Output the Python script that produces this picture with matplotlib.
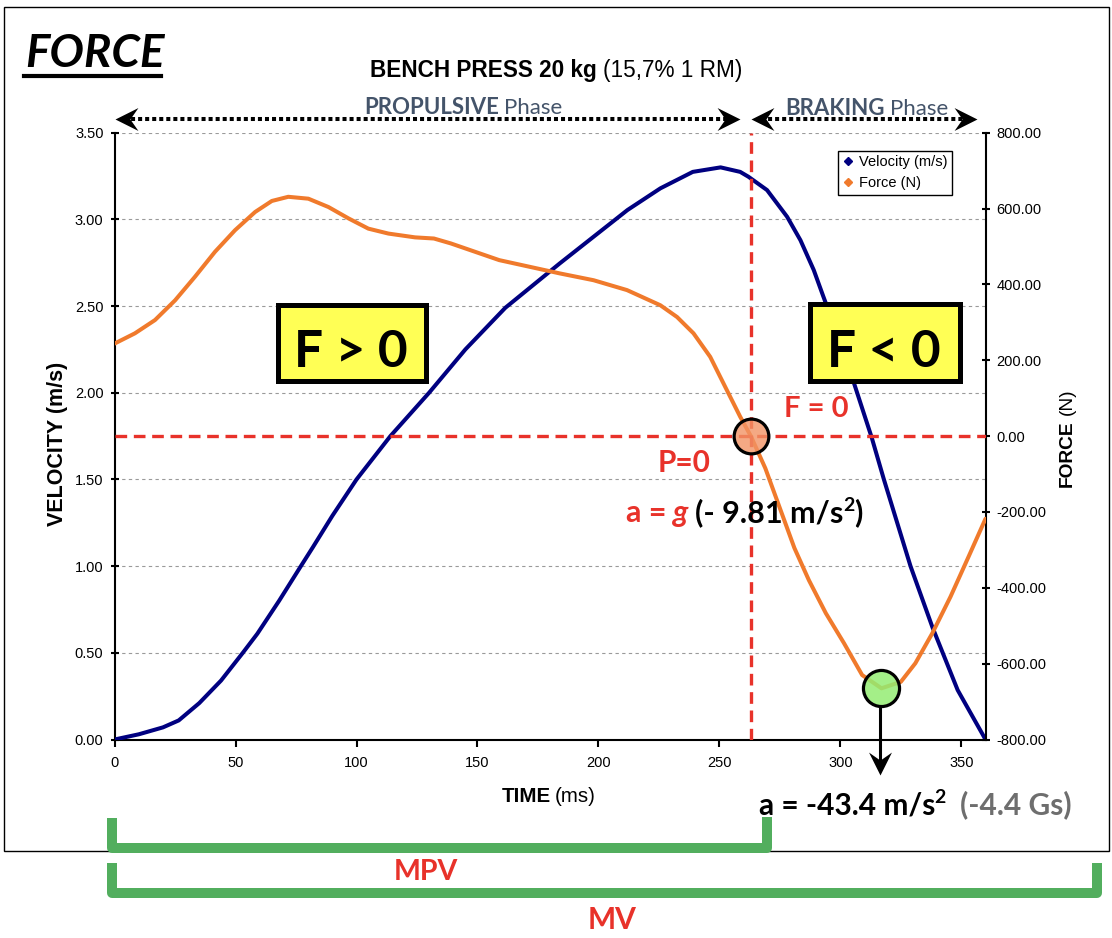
import matplotlib
matplotlib.use("Agg")
import matplotlib.pyplot as plt
import matplotlib.transforms as mtransforms
from matplotlib.lines import Line2D
from matplotlib.patches import Rectangle
from matplotlib.path import Path
from matplotlib.ticker import FuncFormatter

plt.rcParams['font.family'] = ['Liberation Sans', 'DejaVu Sans']
plt.rcParams['axes.unicode_minus'] = False

# ---------------- data ----------------
time_v = [0, 10, 20, 26.5, 35, 44, 53, 59, 68, 77, 82, 90, 100, 114, 130, 145,
          161.5, 184, 198, 212, 225.6, 239, 250.5, 258.6, 262, 269.7, 278,
          283.5, 289, 293, 300, 306, 313, 318, 329, 338, 348.5, 360]
velocity = [0.00, 0.03, 0.07, 0.11, 0.21, 0.34, 0.50, 0.61, 0.80, 1.00, 1.11,
            1.29, 1.50, 1.75, 2.00, 2.25, 2.49, 2.746, 2.90, 3.054, 3.179,
            3.274, 3.30, 3.274, 3.246, 3.169, 3.015, 2.88, 2.708, 2.554, 2.29,
            2.04, 1.74, 1.50, 1.00, 0.65, 0.285, 0.00]

time_f = [0, 8.4, 16.7, 25, 33.2, 41.5, 49.8, 58.1, 65, 71.8, 80.1, 88.4,
          96.7, 104.9, 113.2, 124.2, 132, 139, 159, 184, 198, 211.8, 225.6,
          232.5, 239.3, 246.2, 253.1, 258.6, 263, 269, 275, 281, 287, 294,
          301.5, 309, 317, 325, 331, 338, 345.5, 353, 360]
force = [244, 271, 306, 358, 420, 486, 543, 591, 620, 631, 626, 604, 574, 547,
         534, 524, 521, 508, 464, 429, 411, 385, 345, 314, 271, 209, 121, 51,
         0, -85, -190, -295, -380, -467, -546, -630, -665, -648, -599, -520,
         -424, -318, -218]

x_ticks = [0, 50, 100, 150, 200, 250, 300, 350]
v_ticks = [0.0, 0.5, 1.0, 1.5, 2.0, 2.5, 3.0, 3.5]
f_ticks = [-800, -600, -400, -200, 0, 200, 400, 600, 800]

p0_point = (263, 0)          # F = 0 / P = 0 instant
min_point = (317, -663)      # minimum force
phase_arrows = [(0, 258.5), (263, 356.5)]

NAVY = '#000080'
ORANGE = '#F07A2C'
RED = '#E8322A'
GREEN = '#52AE5E'
SLATE = '#44546A'
W, H = 1112, 938


def fx(x):
    return x / W


def fy(y):
    return 1 - y / H


fig = plt.figure(figsize=(W / 100, H / 100), dpi=100)
fig.patch.set_facecolor('white')

# outer frame
fig.add_artist(Rectangle((fx(4), fy(851)), fx(1109) - fx(4), fy(7) - fy(851),
                         transform=fig.transFigure, fill=False, ec='black',
                         lw=1.0, zorder=0))

L, R, T, B = 114.6, 985.5, 132.7, 739.5
ax = fig.add_axes([fx(L), fy(B), fx(R) - fx(L), fy(T) - fy(B)])
ax2 = ax.twinx()
ax.set_xlim(0, 360)
ax.set_ylim(0, 3.5)
ax2.set_ylim(-800, 800)
ax.patch.set_alpha(0)

ax.yaxis.grid(True, color='#9a9a9a', lw=0.8, linestyle=(0, (3, 3)))
ax.set_axisbelow(True)

ax.plot(time_v, velocity, color=NAVY, lw=2.9, solid_capstyle='round',
        solid_joinstyle='round', zorder=3)
ax2.plot(time_f, force, color=ORANGE, lw=2.9, solid_capstyle='round',
         solid_joinstyle='round', zorder=3)

# spines / ticks
for s in ['top', 'right']:
    ax.spines[s].set_visible(False)
for s in ['top', 'left', 'bottom']:
    ax2.spines[s].set_visible(False)
for sp in [ax.spines['left'], ax.spines['bottom'], ax2.spines['right']]:
    sp.set_linewidth(1.5)

ax.set_xticks(x_ticks)
ax.set_yticks(v_ticks)
ax2.set_yticks(f_ticks)
ax.yaxis.set_major_formatter(FuncFormatter(lambda v, p: f"{v:.2f}"))
ax2.yaxis.set_major_formatter(FuncFormatter(lambda v, p: f"{v:.2f}"))
ax.xaxis.set_major_formatter(FuncFormatter(lambda v, p: f"{int(round(v))}"))
ax.tick_params(axis='y', direction='inout', length=6, width=1.5,
               labelsize=10.5, pad=5)
ax.tick_params(axis='x', direction='out', length=5, width=1.5,
               labelsize=10.5, pad=7)
ax2.tick_params(axis='y', direction='inout', length=6, width=1.5,
                labelsize=10.5, pad=5)

# red dashed reference lines
ax2.axhline(p0_point[1], color=RED, lw=2.4, ls=(0, (3.5, 2)), zorder=4)
ax2.axvline(p0_point[0], color=RED, lw=2.4, ls=(0, (3.5, 2)), zorder=4)

# circles
ax2.plot([p0_point[0]], [p0_point[1]], marker='o', ms=25, ls='none',
         mfc=(0.95, 0.58, 0.40, 0.8), mec='black', mew=2.3, zorder=6)
ax2.plot([min_point[0]], [min_point[1]], marker='o', ms=26, ls='none',
         mfc=(0.58, 0.93, 0.45, 0.85), mec='black', mew=2.3, zorder=6)

# legend
handles = [Line2D([], [], ls='none', marker='D', ms=4, color=NAVY),
           Line2D([], [], ls='none', marker='D', ms=4, color=ORANGE)]
leg = ax2.legend(handles, ['Velocity (m/s)', 'Force (N)'], loc='upper left',
                 bbox_to_anchor=(fx(837.6), fy(150.7)),
                 bbox_transform=fig.transFigure, fontsize=10.5,
                 fancybox=False, framealpha=1, edgecolor='black',
                 borderpad=0.3, labelspacing=0.5, handlelength=0.8,
                 handletextpad=0.4, borderaxespad=0)
leg.get_frame().set_linewidth(1.0)

# chevron arrowheads
MO, LI, CL = Path.MOVETO, Path.LINETO, Path.CLOSEPOLY
chev_left = Path([(0, 0), (2, 1), (1.3, 0), (2, -1), (0, 0)], [MO, LI, LI, LI, CL])
chev_right = Path([(0, 0), (-2, 1), (-1.3, 0), (-2, -1), (0, 0)], [MO, LI, LI, LI, CL])
chev_down = Path([(0, 0), (-1, 2), (0, 1.3), (1, 2), (0, 0)], [MO, LI, LI, LI, CL])

trans = mtransforms.blended_transform_factory(ax.transData, ax.transAxes)
ya = (B - 119) / (B - T)
for t0, t1 in phase_arrows:
    ax.plot([t0 + 4, t1 - 4], [ya, ya], transform=trans, clip_on=False,
            color='black', lw=2.9, ls=(0, (1, 0.75)))
    ax.plot([t0], [ya], transform=trans, clip_on=False, marker=chev_left,
            ms=33, mfc='black', mew=0, ls='none')
    ax.plot([t1], [ya], transform=trans, clip_on=False, marker=chev_right,
            ms=33, mfc='black', mew=0, ls='none')

# arrow from min-force circle
fig.add_artist(Line2D([fx(879.5), fx(879.5)], [fy(706), fy(768)],
                      transform=fig.transFigure, color='black', lw=2.2))
fig.add_artist(Line2D([fx(879.5)], [fy(775)], transform=fig.transFigure,
                      marker=chev_down, ms=33, mfc='black', mew=0, ls='none'))

# yellow boxes
for (x0, y0, x1, y1) in [(275, 302.7, 428.3, 383.3), (807, 302, 962.5, 383)]:
    fig.add_artist(Rectangle((fx(x0 + 2.5), fy(y1 - 2.5)), fx(x1 - x0 - 5),
                             fy(y0 + 2.5) - fy(y1 - 2.5),
                             transform=fig.transFigure, fc='#FFFF55',
                             ec='black', lw=3.6, zorder=7))

# green brackets
for xs, ys in [([112, 112, 767, 767], [818, 848, 848, 817]),
               ([112, 112, 1097, 1097], [863, 893, 893, 863])]:
    fig.add_artist(Line2D([fx(v) for v in xs], [fy(v) for v in ys],
                          transform=fig.transFigure, color=GREEN, lw=7.2,
                          solid_joinstyle='round', solid_capstyle='butt'))


def chain(parts, x, y, ha='left'):
    """parts: (text, gap_px, kwargs[, dy_px]) drawn side by side on one baseline."""
    r = fig.canvas.get_renderer()
    objs, gaps, dys = [], [], []
    for p in parts:
        s, g, kw = p[0], p[1], p[2]
        dys.append(p[3] if len(p) > 3 else 0)
        gaps.append(g)
        objs.append(fig.text(0, 0, s, ha='left', va='baseline', zorder=9, **kw))
    widths = [o.get_window_extent(r).width for o in objs]
    total = sum(widths) + sum(gaps)
    cur = {'left': x, 'center': x - total / 2, 'right': x - total}[ha]
    for o, g, w, dy in zip(objs, gaps, widths, dys):
        cur += g
        o.set_position((fx(cur), fy(y + dy)))
        cur += w
    return objs


LATO = ['Lato', 'DejaVu Sans']

# title block
fig.text(fx(25), fy(66.7), 'FORCE', family=LATO, weight='bold', style='italic',
         fontsize=33, va='baseline')
fig.add_artist(Line2D([fx(24), fx(161)], [fy(75.8), fy(75.8)],
                      transform=fig.transFigure, color='black', lw=3))
chain([("BENCH PRESS 20 kg", 0, dict(fontsize=16.3, fontweight='bold')),
       ("(15,7% 1 RM)", 6, dict(fontsize=16.3))], 556, 77, 'center')
chain([("PROPULSIVE", 0, dict(family=LATO, weight='bold', fontsize=16, color=SLATE)),
       ("Phase", 5, dict(family=LATO, fontsize=16, color=SLATE))], 463, 114, 'center')
chain([("BRAKING", 0, dict(family=LATO, weight='bold', fontsize=16, color=SLATE)),
       ("Phase", 5, dict(family=LATO, fontsize=16, color=SLATE))], 866.5, 115, 'center')

# axis labels
fig.text(fx(57), fy(444), 'VELOCITY (m/s)', rotation=90, ha='center',
         va='center', fontsize=15.5, fontweight='bold')
chain([("TIME", 0, dict(fontsize=14.8, fontweight='bold')),
       ("(ms)", 4, dict(fontsize=14.8))], 501.8, 801.7, 'left')
r = fig.canvas.get_renderer()
t1 = fig.text(fx(1072), fy(486.7), 'FORCE', rotation=90, rotation_mode='anchor',
              ha='left', va='baseline', fontsize=13.8, fontweight='bold')
h1 = t1.get_window_extent(r).height
fig.text(fx(1072), fy(486.7 - h1 - 5), '(N)', rotation=90, rotation_mode='anchor',
         ha='left', va='baseline', fontsize=13.8)

# box texts
chain([("F > 0", 0, dict(family=LATO, weight='bold', fontsize=37))], 350.8, 366.7, 'center')
chain([("F < 0", 0, dict(family=LATO, weight='bold', fontsize=37))], 884, 366.7, 'center')

# annotations
chain([("F = 0", 0, dict(family=LATO, weight='bold', fontsize=21, color=RED))],
      816, 417.3, 'center')
chain([("P=0", 0, dict(family=LATO, weight='bold', fontsize=21.5, color=RED))],
      684, 471.7, 'center')
chain([("a =", 0, dict(family=LATO, weight='bold', fontsize=22, color=RED)),
       ("g", 7, dict(family=LATO, weight='bold', style='italic', fontsize=22, color=RED)),
       ("(- 9.81 m/s", 7, dict(family=LATO, weight='bold', fontsize=22, color='black')),
       ("2", -1, dict(family=LATO, weight='bold', fontsize=14, color='black'), -11),
       (")", 0, dict(family=LATO, weight='bold', fontsize=22, color='black'))],
      625.6, 522, 'left')
chain([("a = -43.4 m/s", 0, dict(family=LATO, weight='bold', fontsize=21.5, color='black')),
       ("2", -1, dict(family=LATO, weight='bold', fontsize=14, color='black'), -11),
       ("(-4.4 Gs)", 15, dict(family=LATO, weight='bold', fontsize=21.5, color='#6E6E6E'))],
      758.6, 814, 'left')
chain([("MPV", 0, dict(family=LATO, weight='bold', fontsize=20.5, color=RED))], 426, 880, 'center')
chain([("MV", 0, dict(family=LATO, weight='bold', fontsize=21.5, color=RED))], 612, 929, 'center')

fig.savefig('out.png', dpi=100)
